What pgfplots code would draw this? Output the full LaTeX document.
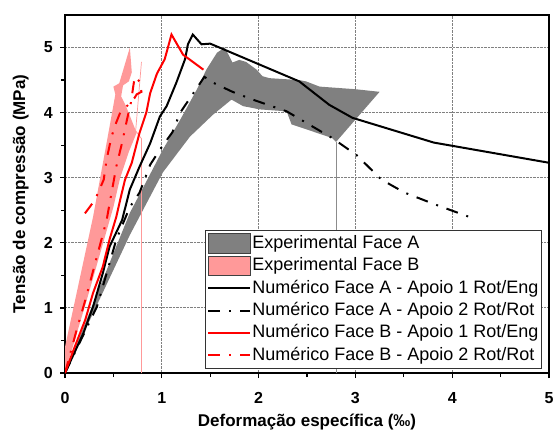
\documentclass[border=0pt]{standalone}
\usepackage{fontspec}
\setmainfont{Liberation Sans}
\usepackage{pgfplots}
\pgfplotsset{compat=1.18}

\definecolor{expA}{RGB}{128,128,128}
\definecolor{expB}{RGB}{255,153,153}

\tikzset{
  dashdot/.style={dash pattern=on 12pt off 9pt on 2pt off 9pt},
}
\pgfplotsset{
  lineleg/.style={legend image code/.code={\draw[##1] (0pt,0pt) -- (42pt,0pt);}},
  patchA/.style={legend image code/.code={\draw[fill=expA, draw=black!75, line width=0.8pt] (0pt,-9.8pt) rectangle (42pt,9.8pt);}},
  patchB/.style={legend image code/.code={\draw[fill=expB, draw=black!75, line width=0.8pt] (0pt,-9.8pt) rectangle (42pt,9.8pt);}},
}

\begin{document}
\begin{tikzpicture}
\begin{axis}[
  at={(0,0)}, anchor=south west,
  scale only axis, width=484pt, height=358pt,
  xmin=0, xmax=5, ymin=0, ymax=5.5,
  xtick={0,1,2,3,4,5}, ytick={0,1,2,3,4,5},
  minor x tick num=1, minor y tick num=1,
  xtick pos=bottom, ytick pos=left,
  tick align=outside,
  major tick length=5pt, minor tick length=4pt,
  every tick/.style={black, line width=1.2pt},
  grid=major,
  major grid style={draw=black!50, densely dotted, line width=1pt},
  axis line style={line width=1.6pt},
  /pgf/number format/assume math mode=true,
  ticklabel style={font=\bfseries\fontsize{16}{16}\selectfont},
  xticklabel style={anchor=north, inner sep=0pt, yshift=-14pt},
  yticklabel style={anchor=east, inner sep=0pt, xshift=-7pt},
  xlabel={Deformação específica (‰)},
  ylabel={Tensão de compressão (MPa)},
  label style={font=\bfseries\fontsize{17}{17}\selectfont},
  xlabel style={at={(axis description cs:0.5,-0.1508)}, anchor=base, inner sep=0pt},
  ylabel style={at={(axis description cs:-0.0826,0.5)}, anchor=base, inner sep=0pt},
  legend cell align=left,
  legend style={
    at={(axis description cs:0.2893,0.3994)}, anchor=north west,
    draw=black!80, line width=0.8pt, fill=white,
    inner xsep=2pt, inner ysep=1.8pt, row sep=0pt,
    font=\fontsize{18}{18}\selectfont,
    nodes={inner sep=1pt, text height=15pt, text depth=5.4pt},
  },
]

% Experimental envelopes
\addplot[fill=expA, draw=none, patchA]
  coordinates {
  (0,0) (0.67,2.46) (0.85,2.97) (1.01,3.43) (1.19,3.89) (1.36,4.35) (1.46,4.66)
  (1.57,4.92) (1.65,5.00) (1.70,4.86) (1.73,4.77) (1.80,4.81) (1.87,4.78) (1.98,4.66)
  (2.04,4.56) (2.11,4.53) (2.42,4.50) (2.49,4.48) (2.63,4.40) (3.00,4.36) (3.25,4.32)
  (2.80,3.55) (2.76,3.61) (2.34,3.82) (2.29,4.02) (2.01,4.05) (1.84,4.10) (1.72,4.20)
  (1.53,3.97) (1.29,3.63) (1.01,3.08) (0.67,2.12) (0,0)
  };
\addlegendentry{Experimental Face A}

\addplot[fill=expB, draw=none, patchB]
  coordinates {
  (0,0) (0,0.40) (0.29,2.40) (0.45,3.70) (0.52,4.28) (0.50,4.40) (0.56,4.45)
  (0.67,5.00) (0.69,4.62) (0.66,4.48) (0.60,4.42) (0.58,4.25) (0.63,4.10)
  (0.74,3.69) (0.66,3.40) (0.57,3.00) (0.50,2.55) (0.25,1.25) (0,0)
  };
\addlegendentry{Experimental Face B}

% closing edges of the experimental envelopes
\addplot[forget plot, draw=black!45, line width=0.5pt] coordinates {(2.80,0) (2.80,3.55)};
\addplot[forget plot, draw=expB, line width=0.7pt] coordinates {(0.79,0) (0.79,3.60) (0.73,3.72) (0.79,4.78)};

% Numerical models
\addplot[black, line width=2pt, lineleg]
  coordinates {
  (0,0) (0.19,0.61) (0.29,1.02) (0.39,1.53) (0.46,1.94) (0.59,2.35) (0.67,2.82)
  (0.77,3.17) (0.88,3.53) (0.98,3.94) (1.05,4.10) (1.15,4.46) (1.24,4.82)
  (1.27,5.05) (1.32,5.20) (1.41,5.05) (1.50,5.06) (2.42,4.48) (2.73,4.12)
  (2.97,3.92) (3.81,3.54) (5.00,3.23)
  };
\addlegendentry{Numérico Face A - Apoio 1 Rot/Eng}

\addplot[black, line width=2pt, dashdot, lineleg]
  coordinates {
  (0,0) (0.33,1.02) (0.43,1.53) (0.53,2.05) (0.67,2.55) (0.77,2.77) (0.88,3.20)
  (0.98,3.43) (1.11,3.70) (1.19,4.00) (1.44,4.55) (1.53,4.46) (1.73,4.32)
  (1.94,4.20) (2.29,4.02) (2.76,3.61) (3.01,3.35) (3.27,2.97) (3.51,2.77)
  (3.84,2.58) (4.21,2.38)
  };
\addlegendentry{Numérico Face A - Apoio 2 Rot/Rot}

\addplot[red, line width=2pt, lineleg]
  coordinates {
  (0,0) (0.09,0.36) (0.21,0.82) (0.29,1.23) (0.39,1.63) (0.46,2.05) (0.53,2.40)
  (0.57,2.66) (0.62,2.97) (0.69,3.23) (0.77,3.69) (0.84,4.00) (0.88,4.30)
  (0.95,4.60) (1.03,4.82) (1.10,5.20) (1.22,4.89) (1.43,4.66)
  };
\addlegendentry{Numérico Face B - Apoio 1 Rot/Eng}

\addplot[red, line width=2pt, dashdot, lineleg]
  coordinates {
  (0,0) (0.12,0.66) (0.21,1.12) (0.33,1.79) (0.43,2.35) (0.53,3.17) (0.59,3.54)
  (0.64,3.89) (0.68,4.15) (0.72,4.55) (0.77,4.48) (0.79,4.32) (0.74,4.28)
  (0.72,4.23) (0.64,4.10) (0.57,4.00) (0.53,3.85) (0.48,3.63) (0.43,3.28)
  (0.40,2.97) (0.31,2.66) (0.18,2.40)
  };
\addlegendentry{Numérico Face B - Apoio 2 Rot/Rot}

\end{axis}
\pgfresetboundingbox
\useasboundingbox (-65pt,-58pt) rectangle (488pt,373pt);
\end{tikzpicture}
\end{document}
